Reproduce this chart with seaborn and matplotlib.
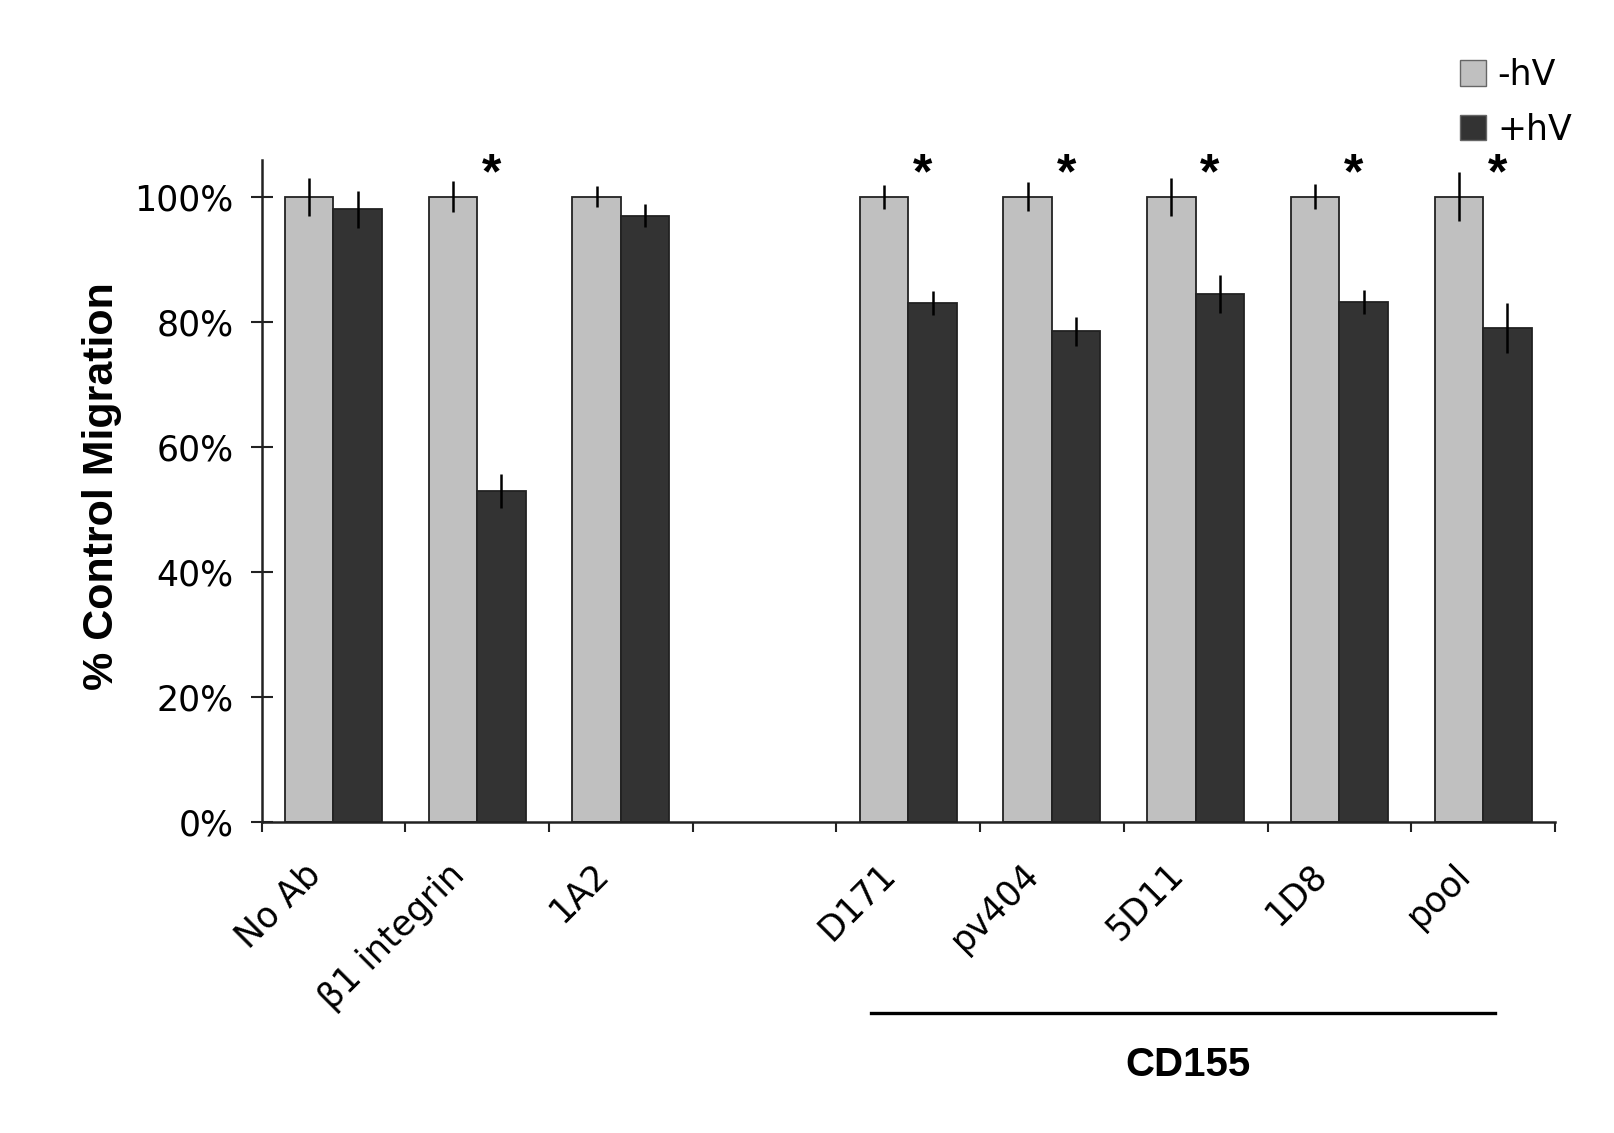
import matplotlib
matplotlib.use("Agg")
import matplotlib.pyplot as plt
import matplotlib.transforms as mtransforms
import seaborn as sns
import pandas as pd
import numpy as np
from matplotlib.lines import Line2D
from matplotlib.patches import Patch

# ---------------- data ----------------
categories = ["No Ab", "β1 integrin", "1A2", "D171", "pv404", "5D11", "1D8", "pool"]
slot_order = ["No Ab", "β1 integrin", "1A2", " ", "D171", "pv404", "5D11", "1D8", "pool"]
series = ["-hV", "+hV"]
minus_hv = [100, 100, 100, 100, 100, 100, 100, 100]
minus_hv_err = [3.0, 2.5, 1.7, 1.9, 2.3, 3.0, 2.0, 3.9]
plus_hv = [98, 53, 97, 83, 78.5, 84.5, 83.2, 79]
plus_hv_err = [3.0, 2.7, 1.9, 1.9, 2.3, 3.0, 1.9, 4.0]
significant = ["β1 integrin", "D171", "pv404", "5D11", "1D8", "pool"]
y_ticks = [0, 20, 40, 60, 80, 100]
y_tick_labels = ["0%", "20%", "40%", "60%", "80%", "100%"]
colors = ["#c0c0c0", "#333333"]

df = pd.DataFrame({
    "category": categories * 2,
    "condition": [series[0]] * len(categories) + [series[1]] * len(categories),
    "value": minus_hv + plus_hv,
})
err_lookup = {}
for c, e in zip(categories, minus_hv_err):
    err_lookup[(c, series[0])] = e
for c, e in zip(categories, plus_hv_err):
    err_lookup[(c, series[1])] = e

# ---------------- figure ----------------
fig = plt.figure(figsize=(16.14, 11.33), dpi=100)
ax = fig.add_axes([0.1621, 0.2745, 0.8013, 0.5843])

sns.barplot(data=df, x="category", y="value", hue="condition",
            order=slot_order, hue_order=series, palette=colors,
            width=0.675, errorbar=None, edgecolor="#222222", linewidth=1.3,
            saturation=1, legend=False, ax=ax)

# error bars from bar positions
for cont, s in zip(ax.containers, series):
    for bar in cont:
        h = bar.get_height()
        if not np.isfinite(h):
            continue
        xc = bar.get_x() + bar.get_width() / 2
        cat = slot_order[int(round(xc))]
        e = err_lookup[(cat, s)]
        ax.vlines(xc, h - e, h + e, color="black", lw=1.8, zorder=5)

# significance stars
for cat in significant:
    i = slot_order.index(cat)
    ax.text(i + 0.1, 101.4, "*", ha="center", va="baseline", fontsize=36,
            fontweight="bold", family="Liberation Sans", clip_on=False)

ax.set_xlim(-0.5, 8.5)
ax.set_ylim(0, 105.9)
ax.set_yticks(y_ticks)
ax.set_yticklabels(y_tick_labels)
ax.set_xticks(range(len(slot_order)))
ax.set_xticklabels([""] * len(slot_order))
ax.set_xticks(np.arange(-0.5, len(slot_order), 1.0), minor=True)
ax.tick_params(axis="x", which="major", length=0)
ax.tick_params(axis="x", which="minor", length=7.5, width=1.5, direction="out", color="#222222")
ax.tick_params(axis="y", direction="inout", length=16, width=1.5, labelsize=25, pad=12, color="#222222")

# rotated category labels (x in data coords, y in axes coords, shifted)
base = mtransforms.blended_transform_factory(ax.transData, ax.transAxes)
shift = mtransforms.ScaledTranslation(-13 / 72, -34 / 72, fig.dpi_scale_trans)
for i, name in enumerate(slot_order):
    if name.strip() == "":
        continue
    ax.text(i, 0, name, transform=base + shift, rotation=45, ha="right",
            va="center", rotation_mode="anchor", fontsize=25, clip_on=False)

ax.set_xlabel("")
ax.set_ylabel("% Control Migration", fontsize=31, fontweight="bold", family="Liberation Sans")
ax.yaxis.set_label_coords(-0.108, 0.508)

for sp in ["top", "right"]:
    ax.spines[sp].set_visible(False)
for sp in ["left", "bottom"]:
    ax.spines[sp].set_linewidth(1.8)
    ax.spines[sp].set_color("#222222")

# legend
handles = [Patch(facecolor=colors[0], edgecolor="#666666", lw=1),
           Patch(facecolor=colors[1], edgecolor="#666666", lw=1)]
fig.legend(handles, series, loc="upper left", bbox_to_anchor=(0.9046, 0.9488),
           frameon=False, fontsize=25, handlelength=0.75, handleheight=0.75,
           handletextpad=0.33, labelspacing=0.6, borderaxespad=0, borderpad=0)

# CD155 group annotation
fig.add_artist(Line2D([0.5397, 0.9263], [0.1059, 0.1059], transform=fig.transFigure,
                      color="black", lw=2.4))
fig.text(0.736, 0.060, "CD155", ha="center", va="center", fontsize=29,
         fontweight="bold", family="Liberation Sans")

fig.savefig("out.png", dpi=100)
